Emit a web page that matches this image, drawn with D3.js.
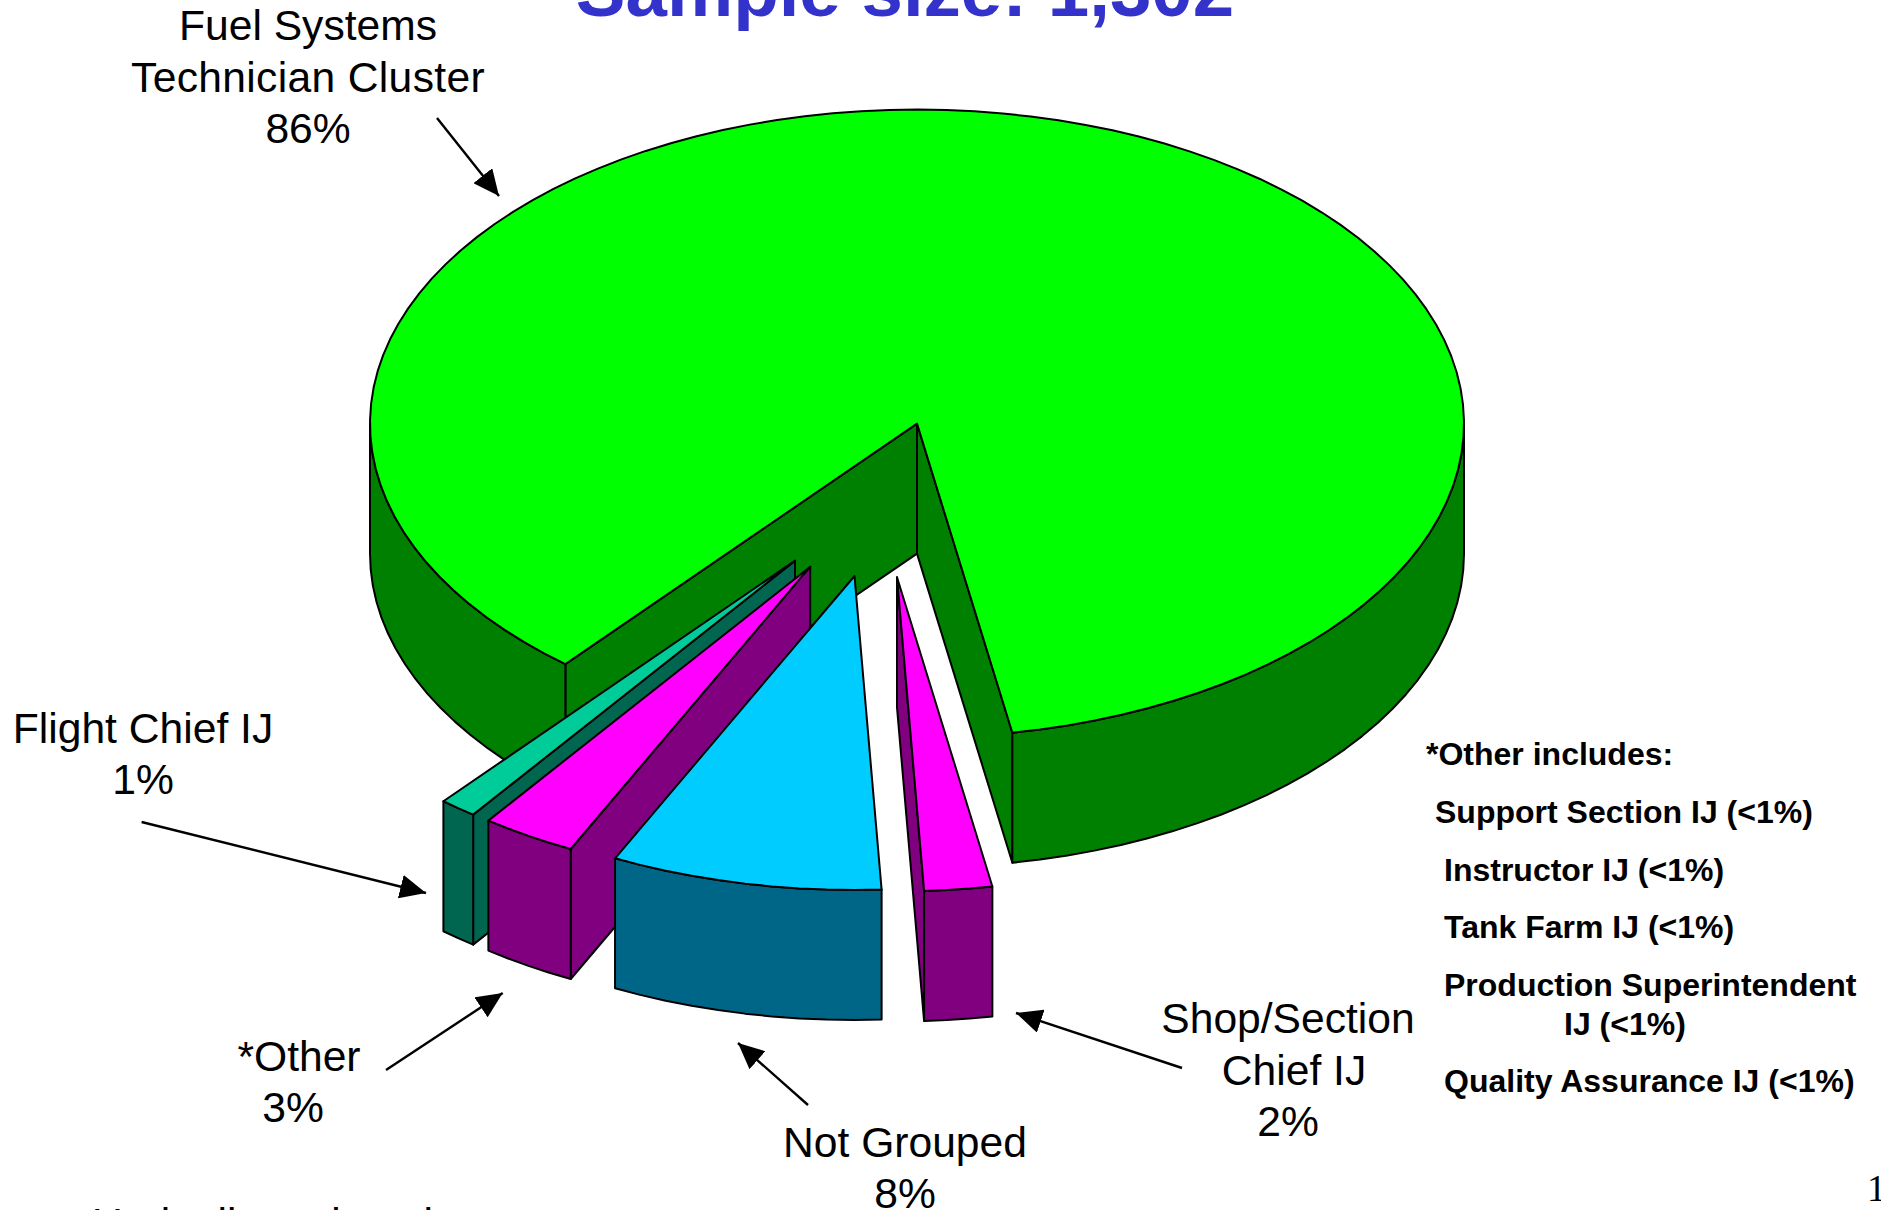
<!DOCTYPE html>
<html>
<head>
<meta charset="utf-8">
<script src="https://cdn.jsdelivr.net/npm/d3@7"></script>
<style>
    html, body { margin: 0; padding: 0; background: #fff; overflow: hidden; }
    svg { display: block; }
    text { font-family: "Liberation Sans", Arial, sans-serif; fill: #000; }
</style>
</head>
<body>
<svg id="chart" width="1881" height="1210"></svg>
<script>
// slice data, clockwise starting at the big slice. Labels show them rounded
const categories = ["Fuel Systems Technician Cluster", "Shop/Section Chief IJ", "Not Grouped", "*Other", "Flight Chief IJ"];
const shares = [86.1, 2, 8, 2.8, 1.1];

const otherItems = ["Support Section IJ (<1%)", "Instructor IJ (<1%)", "Tank Farm IJ (<1%)", "Production Superintendent", "IJ (<1%)", "Quality Assurance IJ (<1%)"];

// look of the slices, same order as categories
const topColors = ["#00ff00", "#ff00ff", "#00ccff", "#ff00ff", "#00cc99"];
const wallColors = ["#008000", "#800080", "#006688", "#800080", "#006650"];
// how far each slice was dragged out of the pie, in pixels
const pullX = [0, -20, -62.5, -106.8, -122];
const pullY = [0, 153.7, 152.4, 143.1, 137.1];
// painter's order: back to front
const drawOrder = [0, 4, 3, 2, 1];

const cx = 917, cy = 423.6, rx = 547, ry = 314, depth = 130;
const startDeg = 220;

const svg = d3.select("#chart");
const toRad = d => d * Math.PI / 180;

const arcs = d3.pie().sort(null).value(d => d)
    .startAngle(toRad(startDeg))
    .endAngle(toRad(startDeg + 360))(shares);

const line = d3.line().x(d => d[0]).y(d => d[1]);

// point on the rim of the tilted pie, angle clockwise from 12 o'clock
const rim = (a, i, drop) => [
    cx + pullX[i] + rx * Math.sin(a),
    cy + pullY[i] + drop - ry * Math.cos(a)
];

function rimPoints(from, to, i, drop) {
    const steps = Math.max(2, Math.ceil((to - from) / toRad(3)));
    return d3.range(steps + 1).map(k => rim(from + (to - from) * k / steps, i, drop));
}

// the parts of an arc that face the viewer (between 3 and 9 o'clock)
function frontParts(arc) {
    const parts = [];
    [[90, 270], [450, 630]].forEach(f => {
        const from = Math.max(arc.startAngle, toRad(f[0]));
        const to = Math.min(arc.endAngle, toRad(f[1]));
        if (to > from) parts.push([from, to]);
    });
    return parts;
}

function drawSlice(i) {
    const arc = arcs[i];
    const g = svg.append("g").attr("class", "slice");
    const apex = [cx + pullX[i], cy + pullY[i]];
    const apexLow = [apex[0], apex[1] + depth];
    const shape = (pts, color) => g.append("path")
        .attr("d", line(pts) + "Z")
        .attr("fill", color)
        .attr("stroke", "#000")
        .attr("stroke-width", 2)
        .attr("stroke-linejoin", "round");

    // radial walls, only the ones turned towards the viewer
    if (Math.sin(arc.startAngle) < 0) {
        shape([apex, apexLow, rim(arc.startAngle, i, depth), rim(arc.startAngle, i, 0)], wallColors[i]);
    }
    if (Math.sin(arc.endAngle) > 0) {
        shape([apex, apexLow, rim(arc.endAngle, i, depth), rim(arc.endAngle, i, 0)], wallColors[i]);
    }
    frontParts(arc).forEach(p => {
        shape(rimPoints(p[0], p[1], i, 0).concat(rimPoints(p[0], p[1], i, depth).reverse()), wallColors[i]);
    });
    shape([apex].concat(rimPoints(arc.startAngle, arc.endAngle, i, 0)), topColors[i]);
}

drawOrder.forEach(drawSlice);

// labels
const label = (str, x, y, size, anchor, bold) => svg.append("text")
    .attr("x", x).attr("y", y)
    .attr("text-anchor", anchor)
    .attr("font-size", size)
    .attr("font-weight", bold ? "bold" : "normal")
    .text(str);

const pct = i => Math.round(shares[i]) + "%";

label("Sample size: 1,302", 905, 16, 74.5, "middle", true).style("fill", "#3333cc");

label("Fuel Systems", 308, 40, 42.6, "middle");
label("Technician Cluster", 308, 92, 42.6, "middle").style("letter-spacing", "0.33px");
label(pct(0), 308, 143, 42.6, "middle");

label(categories[4], 143, 743, 42.6, "middle");
label(pct(4), 143, 794, 42.6, "middle");

label(categories[3], 299, 1071, 42.6, "middle");
label(pct(3), 293, 1122, 42.6, "middle");

label(categories[2], 905, 1157, 42.6, "middle");
label(pct(2), 905, 1208, 42.6, "middle");

label("Shop/Section", 1288, 1033, 42.6, "middle");
label("Chief IJ", 1294, 1085, 42.6, "middle");
label(pct(1), 1288, 1136, 42.6, "middle");

label("Unduplicated total", 92, 1238, 42.6, "start");

// the note on the right
label("*Other includes:", 1426, 765, 32, "start", true);
const itemX = [1435, 1444, 1444, 1444, 1564, 1444];
const itemY = [823, 881, 938, 996, 1035, 1092];
otherItems.forEach((d, i) => label(d, itemX[i], itemY[i], 32, "start", true));

label("1", 1867, 1201, 38, "start").style("font-family", "'Liberation Serif', serif");

// leader arrows from the labels to the slices
svg.append("defs").append("marker")
    .attr("id", "head")
    .attr("markerUnits", "userSpaceOnUse")
    .attr("viewBox", "0 0 26 24")
    .attr("refX", 26).attr("refY", 12)
    .attr("markerWidth", 26).attr("markerHeight", 24)
    .attr("orient", "auto")
    .append("path")
    .attr("d", "M0,0L26,12L0,24Z")
    .attr("fill", "#000");

const arrowFrom = [[437, 118], [141.6, 822], [386, 1070], [808, 1105], [1182, 1068]];
const arrowTo = [[499, 196], [426, 893], [502.7, 993], [738, 1043], [1016, 1013]];

svg.selectAll("line.leader")
    .data(arrowFrom)
    .join("line")
    .attr("class", "leader")
    .attr("x1", d => d[0]).attr("y1", d => d[1])
    .attr("x2", (d, i) => arrowTo[i][0]).attr("y2", (d, i) => arrowTo[i][1])
    .attr("stroke", "#000")
    .attr("stroke-width", 2.4)
    .attr("marker-end", "url(#head)");
</script>
</body>
</html>
